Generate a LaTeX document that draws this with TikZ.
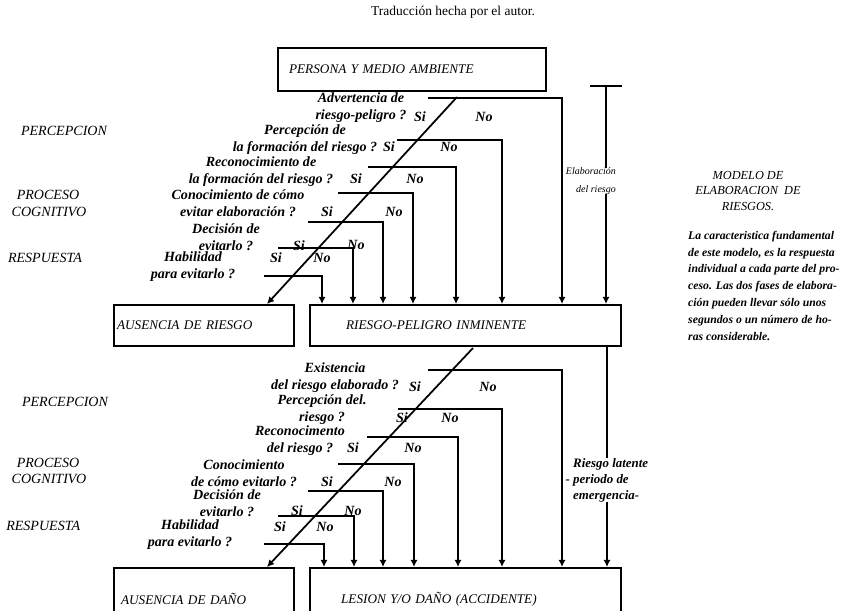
\documentclass[tikz,border=0pt]{standalone}
\usepackage{fontspec}
\setmainfont{Liberation Serif}
\usetikzlibrary{arrows.meta}
\colorlet{bordercolor}{black}
\colorlet{linecolor}{black}
\tikzset{boxbase/.style 2 args={draw=bordercolor, line width=1.8pt, shape=rectangle, anchor=north west, inner ysep=0pt, text width=#1, inner xsep=#2, align=left, font=\itshape\fontsize{11.3}{13}\selectfont},%
    question/.style={align=center, inner sep=0pt, font=\bfseries\itshape\fontsize{12}{14.5}\selectfont},%
    answer/.style={inner sep=0pt, font=\bfseries\itshape\fontsize{12}{13}\selectfont},%
    stage/.style={align=center, inner sep=0pt, font=\itshape\fontsize{12}{13.6}\selectfont},%
    conn/.style={-{Latex[length=6pt,width=6pt]}, line width=1.5pt, color=linecolor}%
}

\begin{document}
\begin{tikzpicture}[x=0.03cm,y=-0.03cm]
    \useasboundingbox (0,0) rectangle (847,610);
    \clip (0,0) rectangle (847,610);
    \begin{scope} %draw boxes
        \node[font=\fontsize{11.5}{14}\selectfont] (titulo) at (453,12) {Traducción hecha por el autor.};
        \node[boxbase={7.38cm}{0.33cm}, minimum height=1.29cm] (persona) at (277,47) {PERSONA Y MEDIO AMBIENTE};
        \node[boxbase={5.22cm}{0.09cm}, minimum height=1.23cm] (ausriesgo) at (113,304) {AUSENCIA DE RIESGO};
        \node[boxbase={7.17cm}{1.08cm}, minimum height=1.23cm] (riesgo) at (309,304) {RIESGO-PELIGRO INMINENTE};
        \node[boxbase={4.98cm}{0.21cm}, minimum height=1.86cm] (ausdano) at (113,567) {AUSENCIA DE DAÑO};
        \node[boxbase={7.47cm}{0.93cm}, minimum height=1.86cm] (lesion) at (309,567) {LESION Y/O DAÑO (ACCIDENTE)};
    \end{scope}
    \begin{scope} %draw questions
        \foreach \nodename/\xpos/\ypos/\firstline/\secondline in {%
                uq1/361/108/{Advertencia de}/{riesgo-peligro ?},
                uq2/305/140/{Percepción de}/{la formación del riesgo ?},
                uq3/261/172/{Reconocimiento de}/{la formación del riesgo ?},
                uq4/238/203/{Conocimiento de cómo}/{evitar elaboración ?},
                uq5/226/237/{Decisión de}/{evitarlo ?},
                uq6/193/267/{Habilidad}/{para evitarlo ?},
                lq1/335/378/{Existencia}/{del riesgo elaborado ?},
                lq2/322/410/{Percepción del.}/{riesgo ?},
                lq3/300/441/{Reconocimento}/{del riesgo ?},
                lq4/244/473/{Conocimiento}/{de cómo evitarlo ?},
                lq5/227/503/{Decisión de}/{evitarlo ?},
                lq6/190/535/{Habilidad}/{para evitarlo ?}
            } \node[question] (\nodename) at (\xpos,\ypos) {\firstline\\\secondline};
        \foreach \nodename/\xpos/\ypos/\labeltext in {%
                us1/420/117/Si, un1/484/117/No,
                us2/389/147/Si, un2/449/147/No,
                us3/356/179/Si, un3/415/179/No,
                us4/327/212/Si, un4/394/212/No,
                us5/299/246/Si, un5/356/245/No,
                us6/276/258/Si, un6/322/258/No,
                ls1/415/387/Si, ln1/488/387/No,
                ls2/402/418/Si, ln2/450/418/No,
                ls3/353/448/Si, ln3/413/448/No,
                ls4/327/482/Si, ln4/393/482/No,
                ls5/297/511/Si, ln5/353/511/No,
                ls6/280/527/Si, ln6/325/527/No
            } \node[answer] (\nodename) at (\xpos,\ypos) {\labeltext};
    \end{scope}
    \begin{scope} %draw connections
        \foreach \nodename/\ypos/\xstart/\xend in {%
                u1/98/428/562, u2/140/397/502, u3/167/368/456, u4/193/338/413,
                u5/222/308/383, u6/248/278/353, u7/276/264/322
            } {\coordinate (\nodename) at (\xstart,\ypos);
               \draw[conn] (\nodename) -| (\xend,0 |- riesgo.north);}
        \foreach \nodename/\ypos/\xstart/\xend in {%
                l1/370/428/562, l2/409/398/502, l3/437/367/458, l4/464/338/414,
                l5/491/308/383, l6/516/278/354, l7/544/264/324
            } {\coordinate (\nodename) at (\xstart,\ypos);
               \draw[conn] (\nodename) -| (\xend,0 |- lesion.north);}
        \coordinate (udiag) at (457,97);
        \draw[conn] (udiag) -- (267,0 |- ausriesgo.north);
        \coordinate (ldiag) at (473,348);
        \draw[conn] (ldiag) -- (267,0 |- ausdano.north);
        \coordinate (elab) at (606,85);
        \draw[conn, {Bar[width=0.95cm]}-{Latex[length=6pt,width=6pt]}] (elab) -- (elab |- riesgo.north);
        \draw[conn] (607,0 |- riesgo.south) -- (607,0 |- lesion.north);
    \end{scope}
    \begin{scope} %add labels
        \node[stage, fill=white, align=right, anchor=east, font=\itshape\fontsize{8.5}{15}\selectfont] (elablabel) at (616,181) {Elaboración\\del riesgo};
        \node[question, fill=white, align=left, anchor=west, font=\bfseries\itshape\fontsize{11}{13.6}\selectfont] (latente) at (573,480) {Riesgo latente\\\llap{- }periodo de\\emergencia-};
        \foreach \nodename/\xpos/\ypos/\labeltext in {%
                percep1/64/131/PERCEPCION, proceso1/48/195/PROCESO, cognit1/49/212/COGNITIVO, resp1/45/258/RESPUESTA,
                percep2/65/402/PERCEPCION, proceso2/48/463/PROCESO, cognit2/49/479/COGNITIVO, resp2/45/526/RESPUESTA
            } \node[stage] (\nodename) at (\xpos,\ypos) {\labeltext};
        \node[stage, font=\itshape\fontsize{10.5}{13.6}\selectfont] (modelo) at (748,191) {MODELO DE\\ELABORACION~~DE\\RIESGOS.};
        \node[question, align=left, anchor=north west, font=\bfseries\itshape\fontsize{10}{14.3}\selectfont] (nota) at (688,231) {La caracteristica fundamental\\de este modelo, es la respuesta\\individual a cada parte del pro-\\ceso. Las dos fases de elabora-\\ción pueden llevar sólo unos\\segundos o un número de ho-\\ras considerable.};
    \end{scope}
\end{tikzpicture}
\end{document}
